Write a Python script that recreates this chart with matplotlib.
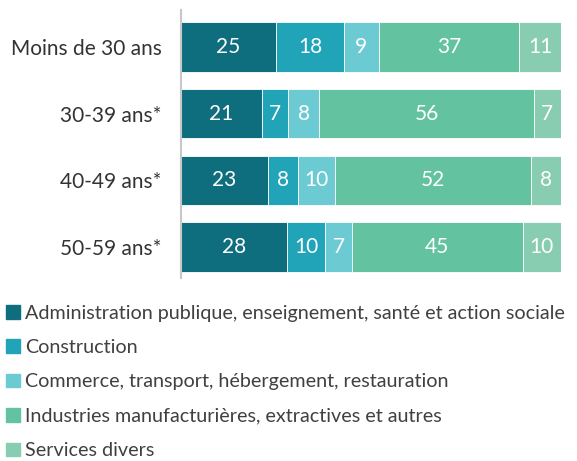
import matplotlib.pyplot as plt
import numpy as np
from matplotlib.patches import Patch

# Catégories et valeurs (%)
groupes = ['Moins de 30 ans', '30-39 ans*', '40-49 ans*', '50-59 ans*']
secteurs = ['Administration publique, enseignement, santé et action sociale',
            'Construction',
            'Commerce, transport, hébergement, restauration',
            'Industries manufacturières, extractives et autres',
            'Services divers']
admin = [25, 21, 23, 28]
construction = [18, 7, 8, 10]
commerce = [9, 8, 10, 7]
industrie = [37, 56, 52, 45]
services = [11, 7, 8, 10]

couleurs = ['#0e6e7e', '#21a3b8', '#6ccbd2', '#63c3a0', '#88cdb1']

plt.rcParams['font.family'] = ['Lato', 'DejaVu Sans']

fig = plt.figure(figsize=(5.77, 4.61), dpi=100)
ax = fig.add_axes([0.3137, 0.397, 0.972 - 0.3137, 0.978 - 0.397])

valeurs = np.array([admin, construction, commerce, industrie, services], dtype=float)
totaux = valeurs.sum(axis=0)
y = np.arange(len(groupes))
gauche = np.zeros(len(groupes))
for i, serie in enumerate(valeurs):
    largeur = serie / totaux * 100
    ax.barh(y, largeur, left=gauche, height=0.74, color=couleurs[i],
            edgecolor='white', linewidth=0.6)
    for j in range(len(groupes)):
        ax.text(gauche[j] + largeur[j] / 2, y[j], f'{int(serie[j])}',
                ha='center', va='center', color='white', fontsize=15)
    gauche += largeur

ax.set_xlim(0, 100)
ax.set_ylim(3.465, -0.555)
ax.set_yticks(y)
ax.set_yticklabels(groupes, fontsize=15, color='#333333')
ax.tick_params(axis='y', length=0, pad=14)
ax.set_xticks([])
for s in ['top', 'right', 'bottom']:
    ax.spines[s].set_visible(False)
ax.spines['left'].set_color('#c8c8c8')
ax.spines['left'].set_linewidth(1.5)

handles = [Patch(color=c) for c in couleurs]
fig.legend(handles, secteurs, loc='upper left', bbox_to_anchor=(-0.003, 0.356),
           frameon=False, fontsize=14.2, handlelength=0.68, handleheight=0.68,
           handletextpad=0.3, labelspacing=0.88, borderaxespad=0,
           labelcolor='#404040')

fig.savefig('out.png', dpi=100)
